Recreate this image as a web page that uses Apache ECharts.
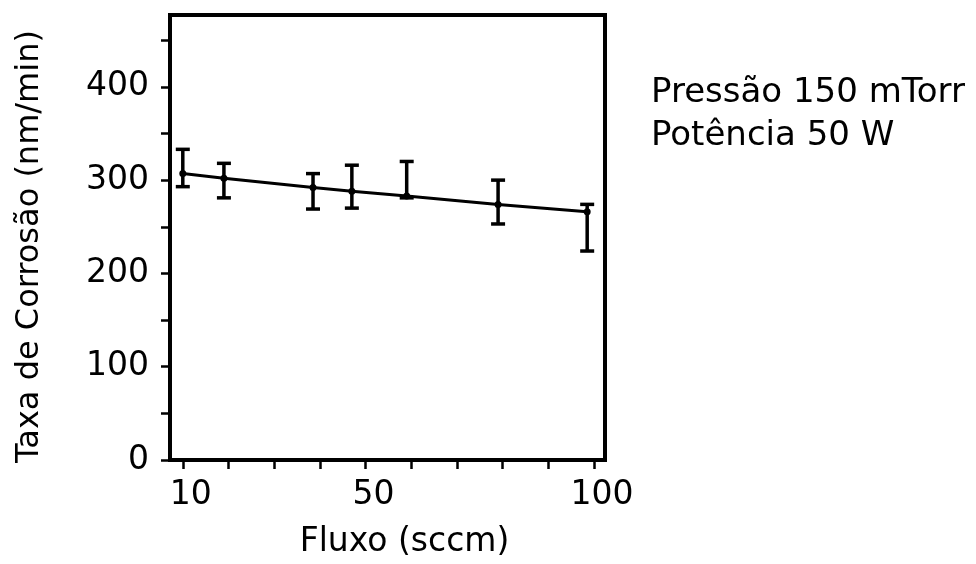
<!DOCTYPE html>
<html>
<head>
<meta charset="utf-8">
<script src="https://cdn.jsdelivr.net/npm/echarts@6/dist/echarts.min.js"></script>
<style>html,body{margin:0;padding:0;background:#fff;}#c{width:976px;height:564px;}</style>
</head>
<body>
<div id="c"></div>
<script>
var flow = [10, 19, 38.5, 47, 59, 79, 98.5];
var rate = [307, 302, 292, 288, 283, 274, 266];
var errLow = [293, 281, 269, 270, 281, 253, 224];
var errHigh = [333, 318, 307, 316, 320, 300, 274];
var xTicks = [10, 20, 30, 40, 50, 60, 70, 80, 90, 100];
var xLabels = [10, 50, 100];
var yTicks = [0, 50, 100, 150, 200, 250, 300, 350, 400, 450];
var yLabels = [0, 100, 200, 300, 400];
var noteLines = ['Pressão 150 mTorr', 'Potência 50 W'];

var FONT = 'DejaVu Sans';
var pts = flow.map(function (x, i) { return [x, rate[i]]; });
var errs = flow.map(function (x, i) { return [x, errLow[i], errHigh[i]]; });

var chart = echarts.init(document.getElementById('c'), null, { renderer: 'canvas' });
chart.setOption({
  animation: false,
  backgroundColor: '#fff',
  grid: { left: 170, right: 371, top: 15, bottom: 101, show: true, borderColor: '#000', borderWidth: 4 },
  xAxis: {
    type: 'value', min: 7.2, max: 102.4,
    name: 'Fluxo (sccm)', nameLocation: 'middle', nameGap: 66,
    nameTextStyle: { fontFamily: FONT, fontSize: 33, color: '#000', padding: [0, 0, 0, 34] },
    axisLine: { show: true, lineStyle: { color: '#000', width: 4 } },
    axisTick: { show: true, inside: false, length: 9, customValues: xTicks, lineStyle: { color: '#000', width: 2.5 } },
    axisLabel: { customValues: xLabels, margin: 19, fontFamily: FONT, fontSize: 33, color: '#000', padding: [0, 0, 0, 16] },
    splitLine: { show: false }
  },
  yAxis: {
    type: 'value', min: 0, max: 477,
    name: 'Taxa de Corrosão (nm/min)', nameLocation: 'middle', nameGap: 124, nameRotate: 90,
    nameTextStyle: { fontFamily: FONT, fontSize: 32, color: '#000', padding: [0, 18, 0, 0] },
    axisLine: { show: true, lineStyle: { color: '#000', width: 4 } },
    axisTick: { show: true, inside: false, length: 9, customValues: yTicks, lineStyle: { color: '#000', width: 2.5 } },
    axisLabel: { customValues: yLabels, margin: 21, fontFamily: FONT, fontSize: 33, color: '#000' },
    splitLine: { show: false }
  },
  series: [
    {
      type: 'line', data: pts, symbol: 'circle', symbolSize: 7,
      itemStyle: { color: '#000' }, lineStyle: { color: '#000', width: 3 }
    },
    {
      type: 'custom', data: errs,
      renderItem: function (params, api) {
        var x = api.value(0);
        var lo = api.coord([x, api.value(1)]);
        var hi = api.coord([x, api.value(2)]);
        var hw = 7;
        var st = { stroke: '#000', lineWidth: 3.5 };
        return {
          type: 'group',
          children: [
            { type: 'line', shape: { x1: lo[0], y1: lo[1], x2: hi[0], y2: hi[1] }, style: st },
            { type: 'line', shape: { x1: lo[0] - hw, y1: lo[1], x2: lo[0] + hw, y2: lo[1] }, style: st },
            { type: 'line', shape: { x1: hi[0] - hw, y1: hi[1], x2: hi[0] + hw, y2: hi[1] }, style: st }
          ]
        };
      },
      encode: { x: 0, y: [1, 2] }, z: 3
    }
  ],
  graphic: [
    { type: 'text', left: 651, top: 76, style: { text: noteLines[0], font: '34px "DejaVu Sans"', fill: '#000' } },
    { type: 'text', left: 651, top: 119, style: { text: noteLines[1], font: '34px "DejaVu Sans"', fill: '#000' } }
  ]
});
</script>
</body>
</html>
